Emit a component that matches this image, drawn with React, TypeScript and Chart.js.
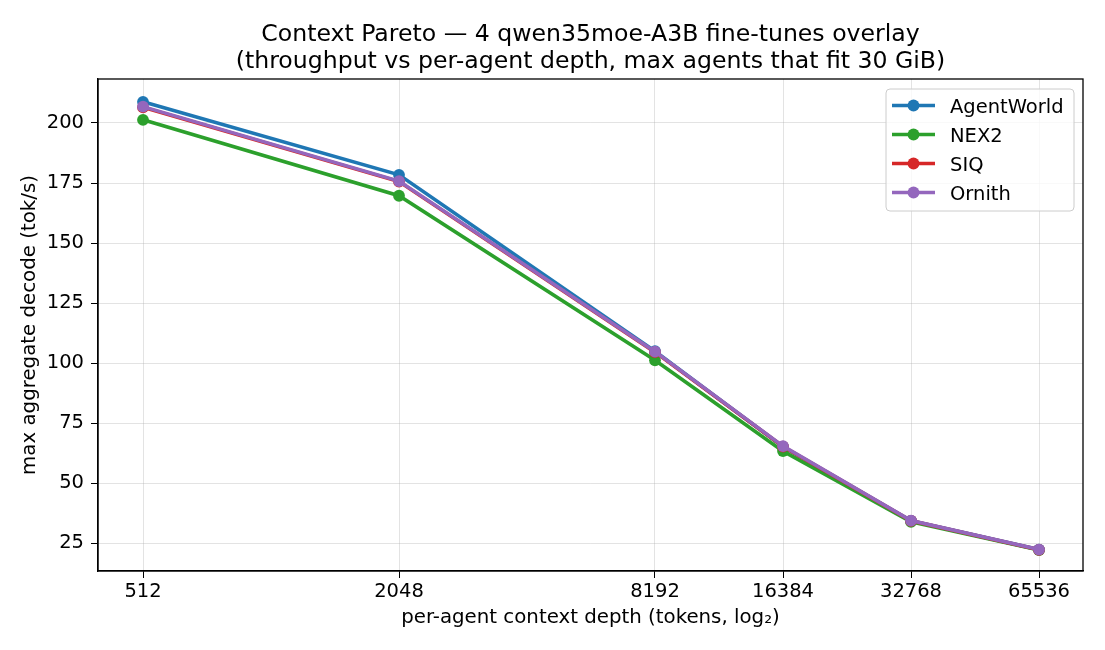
import React, { useEffect, useRef } from "react";
import { Chart, registerables } from "chart.js";

Chart.register(...registerables);

const contextDepths = [512, 2048, 8192, 16384, 32768, 65536];
const xTickValues = [512, 2048, 8192, 16384, 32768, 65536];
const yTickValues = [25, 50, 75, 100, 125, 150, 175, 200];

const agentWorld = [208.8, 178.4, 105.0, 65.2, 34.4, 22.4];
const nex2 = [201.3, 169.7, 101.2, 63.4, 34.0, 22.2];
const siq = [206.5, 175.6, 104.6, 65.3, 34.4, 22.3];
const ornith = [206.8, 175.8, 104.8, 65.5, 34.5, 22.4];

const seriesNames = ["AgentWorld", "NEX2", "SIQ", "Ornith"];
const seriesColors = ["#1f77b4", "#2ca02c", "#d62728", "#9467bd"];
const seriesValues = [agentWorld, nex2, siq, ornith];

const titleLines = [
  "Context Pareto — 4 qwen35moe-A3B fine-tunes overlay",
  "(throughput vs per-agent depth, max agents that fit 30 GiB)",
];
const xAxisTitle = "per-agent context depth (tokens, log₂)";
const yAxisTitle = "max aggregate decode (tok/s)";

const FONT = "'DejaVu Sans', sans-serif";
const TITLE_SIZE = 23.6;
const TEXT_SIZE = 19.5;
const LABEL_SIZE = 19.8;

export default function App() {
  const canvasRef = useRef<HTMLCanvasElement | null>(null);

  useEffect(() => {
    const canvas = canvasRef.current;
    if (!canvas) return;

    const decorPlugin = {
      id: "decor",
      afterDraw(chart: any) {
        const { ctx, chartArea } = chart;
        const cx = (chartArea.left + chartArea.right) / 2;
        ctx.save();
        // spines
        ctx.strokeStyle = "#000";
        ctx.lineWidth = 1.3;
        ctx.strokeRect(chartArea.left, chartArea.top, chartArea.right - chartArea.left, chartArea.bottom - chartArea.top);
        // title
        ctx.fillStyle = "#000";
        ctx.textAlign = "center";
        ctx.textBaseline = "alphabetic";
        ctx.font = `${TITLE_SIZE}px ${FONT}`;
        ctx.fillText(titleLines[0], cx, 40.5);
        ctx.fillText(titleLines[1], cx, 67.5);
        // axis titles
        ctx.font = `${LABEL_SIZE}px ${FONT}`;
        ctx.fillText(xAxisTitle, cx, 623);
        ctx.save();
        ctx.translate(35, (chartArea.top + chartArea.bottom) / 2);
        ctx.rotate(-Math.PI / 2);
        ctx.fillText(yAxisTitle, 0, 0);
        ctx.restore();
        // legend
        const bx = 886, by = 89, bw = 188, bh = 122, r = 4;
        ctx.beginPath();
        ctx.moveTo(bx + r, by);
        ctx.arcTo(bx + bw, by, bx + bw, by + bh, r);
        ctx.arcTo(bx + bw, by + bh, bx, by + bh, r);
        ctx.arcTo(bx, by + bh, bx, by, r);
        ctx.arcTo(bx, by, bx + bw, by, r);
        ctx.closePath();
        ctx.fillStyle = "rgba(255,255,255,0.8)";
        ctx.fill();
        ctx.strokeStyle = "#cccccc";
        ctx.lineWidth = 1;
        ctx.stroke();
        ctx.textAlign = "left";
        ctx.textBaseline = "alphabetic";
        ctx.font = `${TEXT_SIZE}px ${FONT}`;
        seriesNames.forEach((name, i) => {
          const y = 105.5 + i * 29;
          ctx.strokeStyle = seriesColors[i];
          ctx.lineWidth = 3.6;
          ctx.beginPath();
          ctx.moveTo(892, y);
          ctx.lineTo(935, y);
          ctx.stroke();
          ctx.fillStyle = seriesColors[i];
          ctx.beginPath();
          ctx.arc(913.5, y, 5.9, 0, Math.PI * 2);
          ctx.fill();
          ctx.fillStyle = "#000";
          ctx.fillText(name, 950, y + 7);
        });
        ctx.restore();
      },
    };

    const chart = new Chart(canvas, {
      type: "line",
      data: {
        datasets: seriesNames.map((name, i) => ({
          label: name,
          data: contextDepths.map((x, j) => ({ x, y: seriesValues[i][j] })),
          borderColor: seriesColors[i],
          backgroundColor: seriesColors[i],
          borderWidth: 3.6,
          pointRadius: 5.9,
          pointHoverRadius: 5.9,
          pointBorderWidth: 0,
          tension: 0,
          order: seriesNames.length - i,
        })),
      },
      options: {
        responsive: false,
        animation: false,
        devicePixelRatio: 1,
        layout: { padding: { top: 79, right: 22, left: 0, bottom: 0 } },
        plugins: {
          legend: { display: false },
          title: { display: false },
          tooltip: { enabled: false },
        },
        scales: {
          x: {
            type: "logarithmic",
            min: 512 * Math.pow(2, -45 / 128),
            max: 65536 * Math.pow(2, 44 / 128),
            afterBuildTicks: (scale: any) => {
              scale.ticks = xTickValues.map((v) => ({ value: v }));
            },
            afterFit: (scale: any) => {
              scale.height = 79;
            },
            ticks: {
              autoSkip: false,
              maxRotation: 0,
              color: "#000",
              font: { family: FONT, size: TEXT_SIZE },
              padding: 2,
              callback: (v: any) => String(v),
            },
            grid: {
              color: "rgba(176,176,176,0.35)",
              lineWidth: 1,
              tickColor: "#000",
              tickLength: 7,
              drawOnChartArea: true,
            },
            border: { color: "#000", width: 1.3 },
          },
          y: {
            type: "linear",
            min: 13.5,
            max: 218.3,
            afterBuildTicks: (scale: any) => {
              scale.ticks = yTickValues.map((v) => ({ value: v }));
            },
            afterFit: (scale: any) => {
              scale.width = 98;
            },
            ticks: {
              color: "#000",
              font: { family: FONT, size: TEXT_SIZE },
              padding: 7,
            },
            grid: {
              color: "rgba(176,176,176,0.35)",
              lineWidth: 1,
              tickColor: "#000",
              tickLength: 7,
            },
            border: { color: "#000", width: 1.3 },
          },
        },
      },
      plugins: [decorPlugin],
    } as any);

    return () => chart.destroy();
  }, []);

  return (
    <div style={{ position: "fixed", left: 0, top: 0, width: 1105, height: 650, background: "#fff" }}>
      <canvas ref={canvasRef} width={1105} height={650} style={{ width: 1105, height: 650, display: "block" }} />
    </div>
  );
}
